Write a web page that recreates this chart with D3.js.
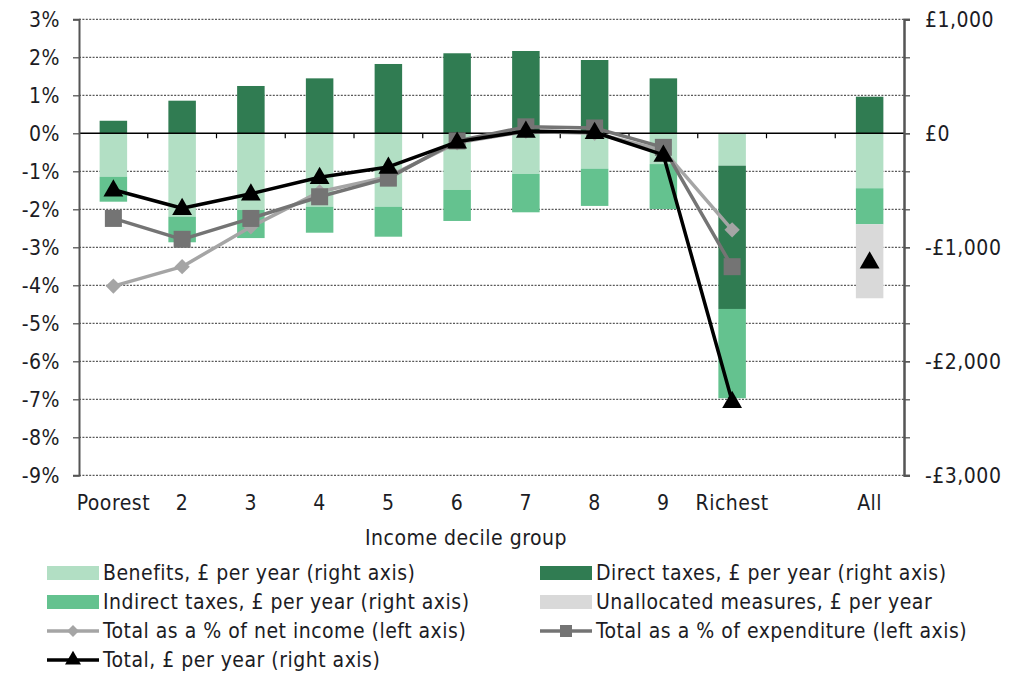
<!DOCTYPE html>
<html>
<head>
<meta charset="utf-8">
<script src="https://cdn.jsdelivr.net/npm/d3@7"></script>
<style>
  body { margin: 0; background: #fff; }
  svg text { font-family: "DejaVu Sans Condensed", "DejaVu Sans", sans-serif; fill: #1c1c24; letter-spacing: 0.5px; }
</style>
</head>
<body>
<div id="chart"></div>
<script>
// categories (income decile groups, plus the overall "All")
const categories = ["Poorest", "2", "3", "4", "5", "6", "7", "8", "9", "Richest", "All"];

// stacked bars, £ per year (right axis)
const benefits    = [-381, -731, -673, -644, -644, -497, -357, -310, -270, -284, -482];
const directTaxes = [110, 286, 415, 482, 608, 702, 722, 643, 482, -1257, 321];
const indirectTaxes = [-219, -225, -246, -228, -263, -272, -336, -327, -395, -783, -316];
const unallocated = [0, 0, 0, 0, 0, 0, 0, 0, 0, 0, -649];

// lines
const pctNetIncome   = [-4.02, -3.51, -2.46, -1.54, -1.14, -0.25, 0.05, 0.0, -0.45, -2.54, null];
const pctExpenditure = [-2.24, -2.79, -2.24, -1.67, -1.18, -0.2, 0.17, 0.14, -0.37, -3.51, null];
const totalPounds    = [-495, -658, -530, -385, -295, -75, 20, 9, -190, -2350, -1126];

// tick values
const leftTicks = [3, 2, 1, 0, -1, -2, -3, -4, -5, -6, -7, -8, -9];
const rightTickLabels = [1000, 0, -1000, -2000, -3000];

const colors = {
    benefits: "#b2dfc4",
    direct: "#307c52",
    indirect: "#64c28f",
    unallocated: "#d9d9d9",
    netIncome: "#a5a5a5",
    expenditure: "#747474",
    total: "#000000"
};

const width = 1012, height = 676;
const plot = {left: 79, right: 904, top: 19.3, bottom: 475.3};
const fontSize = "21px";

const svg = d3.select("#chart")
    .append("svg")
    .attr("width", width)
    .attr("height", height);

// a blank slot between "Richest" and "All"
const domain = categories.slice(0, 10).concat([" "], categories.slice(10));

const x = d3.scaleBand()
    .domain(domain)
    .range([plot.left, plot.right])
    .padding(0);

const yL = d3.scaleLinear().domain([-9, 3]).range([plot.bottom, plot.top]);
const yR = d3.scaleLinear().domain([-3000, 1000]).range([plot.bottom, plot.top]);

// gridlines
svg.append("g")
    .selectAll("line")
    .data(leftTicks.filter(d => d !== 0))
    .enter()
    .append("line")
    .attr("x1", plot.left)
    .attr("x2", plot.right)
    .attr("y1", d => yL(d))
    .attr("y2", d => yL(d))
    .attr("stroke", "#5a5a5a")
    .attr("stroke-width", 1.3)
    .attr("stroke-dasharray", "2,1.4");

// stacked bars
const rows = categories.map((c, i) => ({
    cat: c,
    benefits: benefits[i],
    direct: directTaxes[i],
    indirect: indirectTaxes[i],
    unallocated: unallocated[i]
}));
const keys = ["benefits", "direct", "indirect", "unallocated"];
const stacked = d3.stack().keys(keys).offset(d3.stackOffsetDiverging)(rows);

const barW = x.bandwidth() * 0.4;
svg.append("g")
    .selectAll("g")
    .data(stacked)
    .enter()
    .append("g")
    .attr("fill", d => colors[d.key])
    .selectAll("rect")
    .data(d => d)
    .enter()
    .append("rect")
    .attr("x", d => x(d.data.cat) + (x.bandwidth() - barW) / 2)
    .attr("y", d => yR(Math.max(d[0], d[1])))
    .attr("width", barW)
    .attr("height", d => Math.abs(yR(d[0]) - yR(d[1])));

// zero line with category ticks
const y0 = yL(0);
svg.append("line")
    .attr("x1", plot.left).attr("x2", plot.right)
    .attr("y1", y0).attr("y2", y0)
    .attr("stroke", "#000").attr("stroke-width", 1.5);
svg.append("g")
    .selectAll("line")
    .data(domain.slice(1))
    .enter()
    .append("line")
    .attr("x1", d => x(d)).attr("x2", d => x(d))
    .attr("y1", y0).attr("y2", y0 + 5)
    .attr("stroke", "#000").attr("stroke-width", 1.2);

// axes
svg.append("g")
    .attr("transform", "translate(" + plot.left + ",0)")
    .call(d3.axisLeft(yL).tickValues(leftTicks).tickSize(6).tickPadding(13).tickFormat(d => d + "%"));

const minorRight = d3.range(0, 13).map(i => -3000 + i * 4000 / 12);
svg.append("g")
    .attr("transform", "translate(" + plot.right + ",0)")
    .call(d3.axisRight(yR).tickValues(minorRight).tickSize(6).tickFormat(""));
svg.append("g")
    .attr("transform", "translate(" + plot.right + ",0)")
    .call(d3.axisRight(yR).tickValues(rightTickLabels).tickSize(6).tickPadding(15)
        .tickFormat(d => (d < 0 ? "-" : "") + "£" + d3.format(",")(Math.abs(d))));

svg.selectAll(".domain").attr("stroke", "#555").attr("stroke-width", 2);
svg.selectAll(".tick line").attr("stroke", "#555").attr("stroke-width", 1.3);
svg.selectAll(".tick text").style("font-size", fontSize).attr("fill", "#1c1c24");

const bottomAxis = svg.append("g")
    .attr("transform", "translate(0," + plot.bottom + ")")
    .call(d3.axisBottom(x).tickSize(0).tickPadding(20));
bottomAxis.select(".domain").remove();
bottomAxis.selectAll("text").style("font-size", fontSize);

svg.append("text")
    .attr("x", 466)
    .attr("y", 545)
    .attr("text-anchor", "middle")
    .style("font-size", fontSize)
    .text("Income decile group");

// lines
function pointsOf(values, scale) {
    return domain.map(c => {
        const i = categories.indexOf(c);
        const v = i < 0 ? null : values[i];
        return {cat: c, v: v, y: v === null ? null : scale(v)};
    });
}
const cx = c => x(c) + x.bandwidth() / 2;

function drawLine(pts, color, w) {
    // the line does not run across the blank slot to "All"
    const linePts = pts.filter(p => p.cat !== "All");
    svg.append("path")
        .datum(linePts)
        .attr("fill", "none")
        .attr("stroke", color)
        .attr("stroke-width", w)
        .attr("stroke-linejoin", "round")
        .attr("d", d3.line().defined(p => p.v !== null).x(p => cx(p.cat)).y(p => p.y));
}

const netPts = pointsOf(pctNetIncome, yL);
const expPts = pointsOf(pctExpenditure, yL);
const totPts = pointsOf(totalPounds, yR);

drawLine(netPts, colors.netIncome, 3.5);
svg.append("g").selectAll("path")
    .data(netPts.filter(p => p.v !== null))
    .enter().append("path")
    .attr("transform", p => "translate(" + cx(p.cat) + "," + p.y + ")")
    .attr("d", d3.symbol(d3.symbolDiamond2, 150))
    .attr("fill", colors.netIncome);

drawLine(expPts, colors.expenditure, 3.5);
svg.append("g").selectAll("rect")
    .data(expPts.filter(p => p.v !== null))
    .enter().append("rect")
    .attr("x", p => cx(p.cat) - 8.5)
    .attr("y", p => p.y - 8.5)
    .attr("width", 17).attr("height", 17)
    .attr("fill", colors.expenditure);

drawLine(totPts, colors.total, 3.5);
svg.append("g").selectAll("path")
    .data(totPts.filter(p => p.v !== null))
    .enter().append("path")
    .attr("transform", p => "translate(" + cx(p.cat) + "," + (p.y + 1) + ")")
    .attr("d", d3.symbol(d3.symbolTriangle, 170))
    .attr("fill", colors.total);

// legend
const legendItems = [
    {label: "Benefits, £ per year (right axis)", type: "box", color: colors.benefits, col: 0, row: 0},
    {label: "Direct taxes, £ per year (right axis)", type: "box", color: colors.direct, col: 1, row: 0},
    {label: "Indirect taxes, £ per year (right axis)", type: "box", color: colors.indirect, col: 0, row: 1},
    {label: "Unallocated measures, £ per year", type: "box", color: colors.unallocated, col: 1, row: 1},
    {label: "Total as a % of net income (left axis)", type: "diamond", color: colors.netIncome, col: 0, row: 2},
    {label: "Total as a % of expenditure (left axis)", type: "square", color: colors.expenditure, col: 1, row: 2},
    {label: "Total, £ per year (right axis)", type: "triangle", color: colors.total, col: 0, row: 3}
];
const colX = [47, 540];
const legend = svg.append("g")
    .selectAll("g")
    .data(legendItems)
    .enter()
    .append("g")
    .attr("transform", d => "translate(" + colX[d.col] + "," + (573 + d.row * 29) + ")");

legend.each(function(d) {
    const g = d3.select(this);
    if (d.type === "box") {
        g.append("rect").attr("x", 0).attr("y", -7).attr("width", 52).attr("height", 14).attr("fill", d.color);
    } else {
        g.append("line").attr("x1", 0).attr("x2", 52).attr("y1", 0).attr("y2", 0)
            .attr("stroke", d.color).attr("stroke-width", 3.5);
        if (d.type === "diamond") {
            g.append("path").attr("transform", "translate(26,0)").attr("d", d3.symbol(d3.symbolDiamond2, 90)).attr("fill", d.color);
        } else if (d.type === "square") {
            g.append("rect").attr("x", 20).attr("y", -6).attr("width", 12).attr("height", 12).attr("fill", d.color);
        } else {
            g.append("path").attr("transform", "translate(26,0)").attr("d", d3.symbol(d3.symbolTriangle, 110)).attr("fill", d.color);
        }
    }
    g.append("text")
        .attr("x", 56)
        .attr("y", 0)
        .attr("dy", "0.35em")
        .style("font-size", fontSize)
        .text(d.label);
});
</script>
</body>
</html>
